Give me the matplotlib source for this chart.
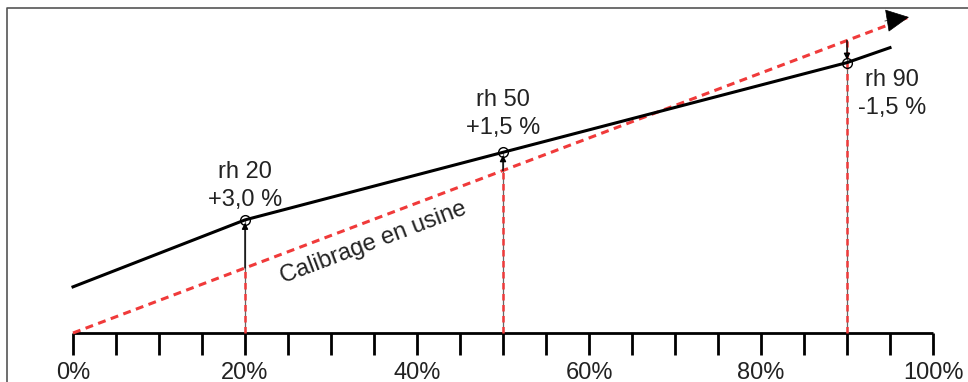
import matplotlib
matplotlib.use("Agg")
import matplotlib.pyplot as plt

plt.rcParams['font.family'] = ['Liberation Sans', 'DejaVu Sans']

# ---- data ----
tick_values = [0, 20, 40, 60, 80, 100]
tick_labels = ["0%", "20%", "40%", "60%", "80%", "100%"]
minor_ticks = list(range(0, 101, 5))

factory_x = [0, 97]
factory_y = [0, 97]

sensor_x = [0, 20, 50, 90, 95]
sensor_y = [14.2, 34.8, 55.6, 83.2, 87.8]

cal_points = [20, 50, 90]
cal_sensor = [34.8, 55.6, 83.2]
cal_names = ["rh 20", "rh 50", "rh 90"]
cal_offsets = ["+3,0 %", "+1,5 %", "-1,5 %"]

RED = '#f03a3a'
TXT = '#222222'
FS = 17

fig = plt.figure(figsize=(9.68, 3.82), dpi=100)
ax = fig.add_axes([0, 0, 1, 1])
ax.set_xlim(-73 / 8.6, (968 - 73) / 8.6)
ax.set_ylim(-(382 - 333) / 3.25, 333 / 3.25)
ax.axis('off')

# frame
fx0, fy1 = -66 / 8.6, (333 - 8) / 3.25
ax.plot([fx0, fx0, 200], [-50, fy1, fy1], color='#555555', lw=1.2, clip_on=True)

# baseline with ticks
ax.plot([0, 100], [0, 0], color='black', lw=2, solid_capstyle='butt', zorder=3)
for t in minor_ticks:
    ax.plot([t, t], [0, -22 / 3.25], color='black', lw=2, solid_capstyle='butt', zorder=3)
for t, lab in zip(tick_values, tick_labels):
    ax.text(t, -(373 - 333) / 3.25, lab, ha='center', va='center', fontsize=FS, color=TXT)

# vertical guides
for x, ys in zip(cal_points, cal_sensor):
    top = max(x, ys)
    ax.plot([x, x], [0, top], color='#666666', lw=0.9, zorder=2)
    ax.plot([x, x], [0, x], color=RED, lw=1.8, ls=(0, (2.6, 1.8)), zorder=3)
    ax.annotate('', xy=(x, ys), xytext=(x, x),
                arrowprops=dict(arrowstyle='-|>', color='black', lw=1.0,
                                mutation_scale=9, shrinkA=0, shrinkB=2),
                zorder=4)

# factory calibration line (dashed red with arrowhead)
ax.plot(factory_x, factory_y, color=RED, lw=2.2, ls=(0, (2.6, 1.8)), zorder=3)
ax.annotate('', xy=(factory_x[1] + 0.2, factory_y[1] + 0.2),
            xytext=(factory_x[1] - 2.6, factory_y[1] - 1.0),
            arrowprops=dict(arrowstyle='-|>', color='black', lw=0.5,
                            mutation_scale=38, shrinkA=0, shrinkB=0),
            zorder=5)

# sensor line
ax.plot(sensor_x, sensor_y, color='black', lw=2.2, zorder=4)
ax.plot(cal_points, cal_sensor, 'o', mfc='none', mec='black', ms=7, mew=1.0, zorder=5)

# labels
label_pos = [(20, 172, 200), (50, 100, 128), (95.2, 80, 108)]
for (x, y1, y2), n, o in zip(label_pos, cal_names, cal_offsets):
    ax.text(x, (333 - y1) / 3.25, n, ha='center', va='center', fontsize=FS, color=TXT)
    ax.text(x, (333 - y2) / 3.25, o, ha='center', va='center', fontsize=FS, color=TXT)

ax.text((373 - 73) / 8.6, (333 - 243) / 3.25, "Calibrage en usine", rotation=20.7,
        rotation_mode='anchor', ha='center', va='center', fontsize=FS, color=TXT)

fig.savefig('out.png', dpi=100)
